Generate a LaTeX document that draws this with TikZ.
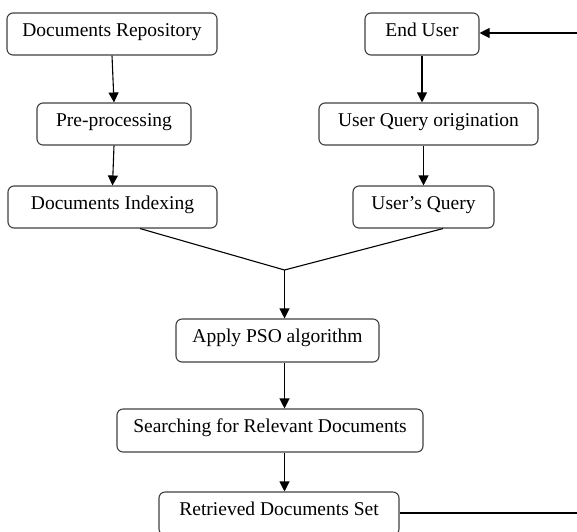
\documentclass[tikz,border=0pt]{standalone}
\usepackage{fontspec}
\setmainfont{Liberation Serif}
\usetikzlibrary{arrows.meta}

\tikzset{
  stage/.style={draw=black!75, line width=1.1pt, rounded corners=6pt, fill=white,
    minimum height=42pt, inner sep=0pt, text height=14pt, text depth=10pt,
    font=\fontsize{19.5}{22}\selectfont},
  flow/.style={line width=1.1pt, -{Triangle[length=10pt,width=10pt]}},
  link/.style={line width=1.1pt}
}

\begin{document}
\begin{tikzpicture}[x=1pt,y=-1pt]
  \useasboundingbox (0,0) rectangle (577,531);
  \node[stage, minimum width=210pt] (repo) at (112,34) {Documents Repository};
  \node[stage, minimum width=154pt] (prep) at (114,124) {Pre-processing};
  \node[stage, minimum width=209pt] (index) at (112.5,207) {Documents Indexing};
  \node[stage, minimum width=114pt] (enduser) at (422,34) {End User};
  \node[stage, minimum width=219pt] (origin) at (428.5,124) {User Query origination};
  \node[stage, minimum width=141pt] (query) at (423.5,207) {User's Query};
  \node[stage, minimum width=203pt, minimum height=43pt] (pso) at (277.5,340.5) {Apply PSO algorithm};
  \node[stage, minimum width=306pt, minimum height=43pt] (search) at (270,430.5) {Searching for Relevant Documents};
  \node[stage, minimum width=240pt, minimum height=43pt] (result) at (279,513.5) {Retrieved Documents Set};
  \coordinate (merge) at (284.5,270);
  \coordinate (backlow) at (580,513);
  \coordinate (backhigh) at (580,33);

  \draw[flow] (repo.south) -- (prep.north);
  \draw[flow] (prep.south) -- (index.north);
  \draw[flow] (enduser.south) -- (enduser.south |- origin.north);
  \draw[flow] (query.north |- origin.south) -- (query.north);
  \draw[link] ([xshift=27.5pt]index.south) -- (merge);
  \draw[link] ([xshift=19.5pt]query.south) -- (merge);
  \draw[flow] (merge) -- (merge |- pso.north);
  \draw[flow] (pso.south -| merge) -- (search.north -| merge);
  \draw[flow] (search.south -| merge) -- (result.north -| merge);
  \draw[flow] (result.east |- backlow) -- (backlow) -- (backhigh) -- (enduser.east |- backhigh);
\end{tikzpicture}
\end{document}
